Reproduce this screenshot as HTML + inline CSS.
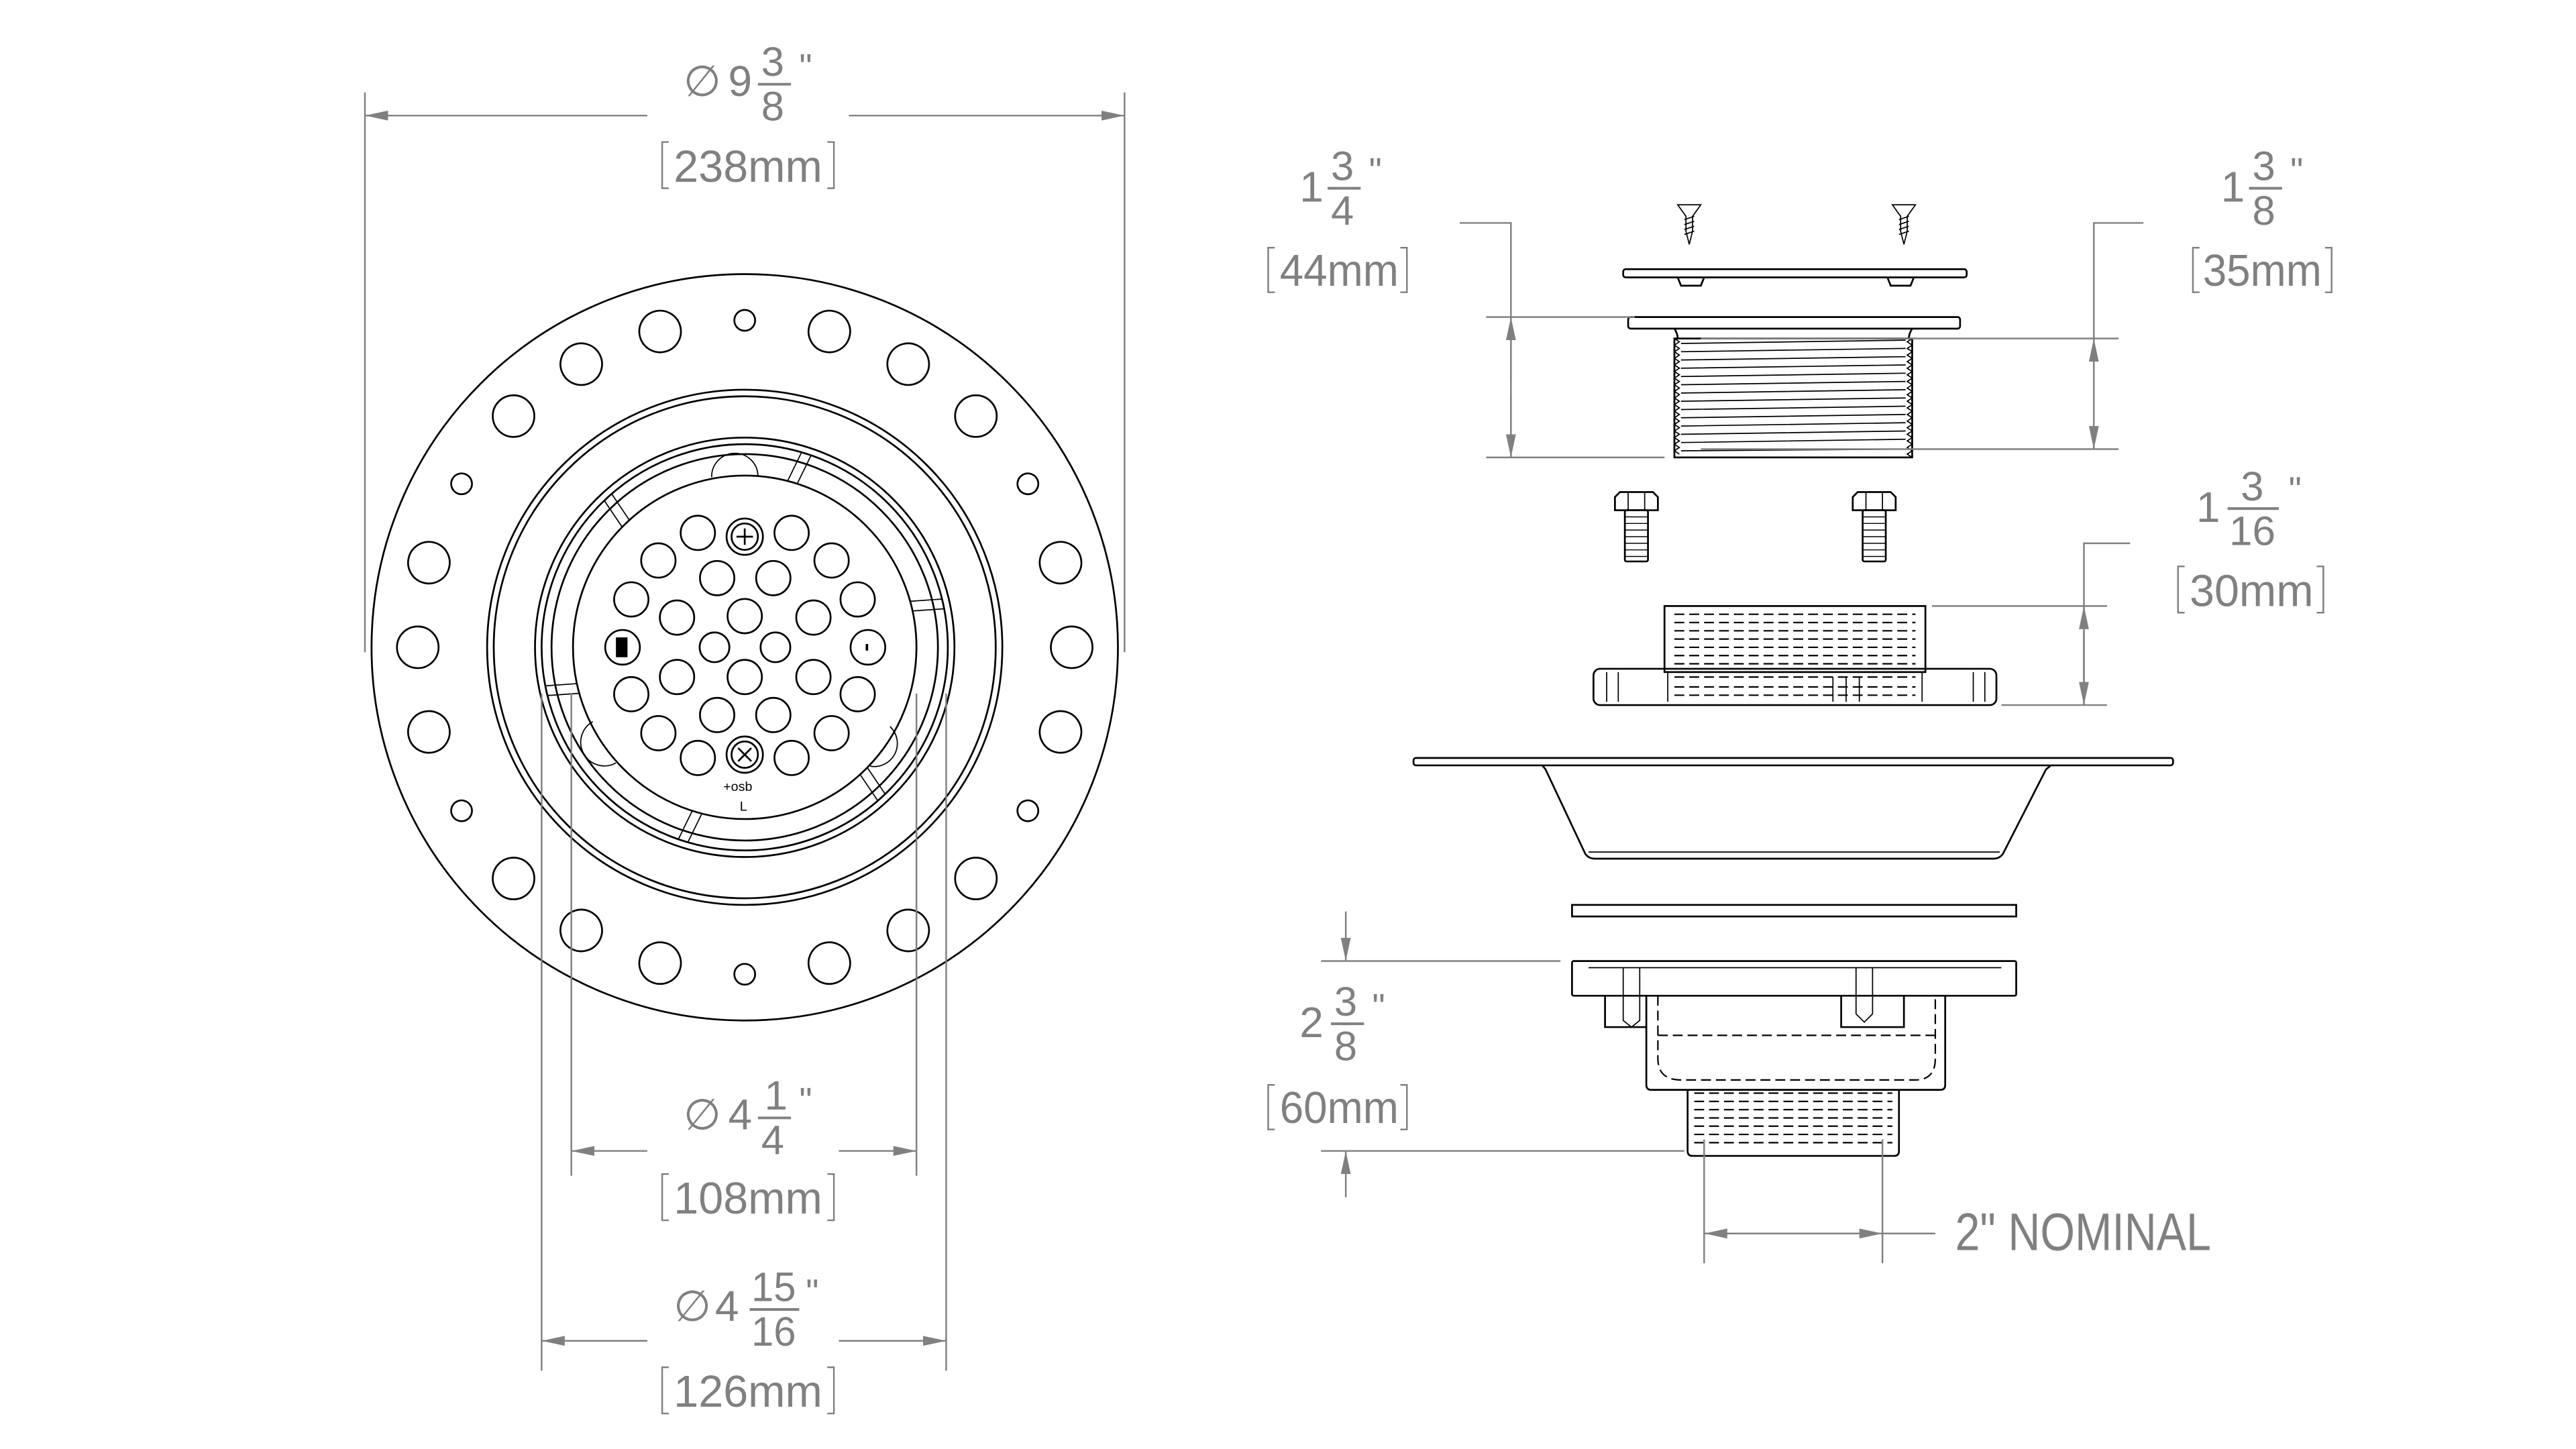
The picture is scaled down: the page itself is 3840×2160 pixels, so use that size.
<!DOCTYPE html>
<html><head><meta charset="utf-8"><style>
html,body{margin:0;padding:0;background:#fff;}
svg{display:block;}
.t{font-family:"Liberation Sans",sans-serif;fill:#808080;}
.d{stroke:#808080;stroke-width:1;fill:none;}
.k{stroke:#000;stroke-width:1.1;fill:none;}
.kt{stroke:#000;stroke-width:0.7;fill:none;}
.ds{stroke:#000;stroke-width:0.9;fill:none;stroke-dasharray:6 3;}
</style></head><body>
<svg width="3840" height="2160" viewBox="0 0 1560 877.5" xmlns="http://www.w3.org/2000/svg">
<defs>
<marker id="a" viewBox="0 0 14 6" refX="14" refY="3" markerWidth="14" markerHeight="6" markerUnits="userSpaceOnUse" orient="auto"><path d="M0,0 L14,3 L0,6 z" fill="#808080"/></marker>
</defs>
<rect width="1560" height="877.5" fill="#fff"/>

<g transform="translate(451,392)">
  <circle class="k" r="226" stroke-width="1.4"/>
  <circle class="k" r="156"/>
  <circle class="k" r="152"/>
  <circle class="k" r="127"/>
  <circle class="k" r="123"/>
  <circle class="k" r="117"/>
  <circle class="k" r="104"/>
  <g class="k">
    <circle cx="0" cy="-198" r="12.6" transform="rotate(15)"/>
    <circle cx="0" cy="-198" r="12.6" transform="rotate(30)"/>
    <circle cx="0" cy="-198" r="12.6" transform="rotate(45)"/>
    <circle cx="0" cy="-198" r="12.6" transform="rotate(75)"/>
    <circle cx="0" cy="-198" r="12.6" transform="rotate(90)"/>
    <circle cx="0" cy="-198" r="12.6" transform="rotate(105)"/>
    <circle cx="0" cy="-198" r="12.6" transform="rotate(135)"/>
    <circle cx="0" cy="-198" r="12.6" transform="rotate(150)"/>
    <circle cx="0" cy="-198" r="12.6" transform="rotate(165)"/>
    <circle cx="0" cy="-198" r="12.6" transform="rotate(195)"/>
    <circle cx="0" cy="-198" r="12.6" transform="rotate(210)"/>
    <circle cx="0" cy="-198" r="12.6" transform="rotate(225)"/>
    <circle cx="0" cy="-198" r="12.6" transform="rotate(255)"/>
    <circle cx="0" cy="-198" r="12.6" transform="rotate(270)"/>
    <circle cx="0" cy="-198" r="12.6" transform="rotate(285)"/>
    <circle cx="0" cy="-198" r="12.6" transform="rotate(315)"/>
    <circle cx="0" cy="-198" r="12.6" transform="rotate(330)"/>
    <circle cx="0" cy="-198" r="12.6" transform="rotate(345)"/>
    <circle cx="0" cy="-198" r="6.3"/>
    <circle cx="0" cy="-198" r="6.3" transform="rotate(60)"/>
    <circle cx="0" cy="-198" r="6.3" transform="rotate(120)"/>
    <circle cx="0" cy="-198" r="6.3" transform="rotate(180)"/>
    <circle cx="0" cy="-198" r="6.3" transform="rotate(240)"/>
    <circle cx="0" cy="-198" r="6.3" transform="rotate(300)"/>
  </g>
  <g class="kt">
    <path d="M-8,-123 L-10,-104" transform="rotate(20)"/><path d="M-2,-123 L-4,-104" transform="rotate(20)"/>
    <path d="M-8,-123 L-10,-104" transform="rotate(-40)"/><path d="M-2,-123 L-4,-104" transform="rotate(-40)"/>
    <path d="M-8,-123 L-10,-104" transform="rotate(80)"/><path d="M-2,-123 L-4,-104" transform="rotate(80)"/>
    <path d="M-8,-123 L-10,-104" transform="rotate(140)"/><path d="M-2,-123 L-4,-104" transform="rotate(140)"/>
    <path d="M-8,-123 L-10,-104" transform="rotate(200)"/><path d="M-2,-123 L-4,-104" transform="rotate(200)"/>
    <path d="M-8,-123 L-10,-104" transform="rotate(260)"/><path d="M-2,-123 L-4,-104" transform="rotate(260)"/>
    <path d="M-20,-103 A12,12 0 0 1 8,-104"/>
    <path d="M-92,45 A14,14 0 0 0 -78,70"/>
    <path d="M88,48 A14,14 0 0 1 76,72"/>
  </g>
  <g class="k">
    <circle cx="-28.4" cy="-69.3" r="10.4"/><circle cx="28.4" cy="-69.3" r="10.4"/>
    <circle cx="-52.3" cy="-52.6" r="10.4"/><circle cx="52.6" cy="-52.6" r="10.4"/>
    <circle cx="-16.7" cy="-41.9" r="10.4"/><circle cx="17.3" cy="-41.9" r="10.4"/>
    <circle cx="-68.7" cy="-29" r="10.4"/><circle cx="68.4" cy="-29" r="10.4"/>
    <circle cx="-41" cy="-18" r="10.4"/><circle cx="0" cy="-18.9" r="10.4"/><circle cx="41.6" cy="-18" r="10.4"/>
    <circle cx="-18.3" cy="0" r="9"/><circle cx="18.6" cy="0" r="9"/>
    <circle cx="-41" cy="18" r="10.4"/><circle cx="0" cy="18" r="10.4"/><circle cx="41.6" cy="18" r="10.4"/>
    <circle cx="-68.7" cy="28.4" r="10.4"/><circle cx="68.4" cy="28.4" r="10.4"/>
    <circle cx="-16.7" cy="41" r="10.4"/><circle cx="17.3" cy="41" r="10.4"/>
    <circle cx="-52.3" cy="52" r="10.4"/><circle cx="52.6" cy="52" r="10.4"/>
    <circle cx="-28.4" cy="67" r="10.4"/><circle cx="28.4" cy="67" r="10.4"/>
    <circle cx="-74" cy="0" r="10.5"/><circle cx="74.6" cy="0" r="10.5"/>
    <circle cx="0" cy="-67" r="11"/><circle cx="0" cy="-67" r="8"/>
    <circle cx="0" cy="65" r="11"/><circle cx="0" cy="65" r="8"/>
    <path d="M-5,-67 H5 M0,-72 V-62"/>
    <path d="M-4,61 L4,69 M4,61 L-4,69"/>
  </g>
  <rect x="-78" y="-6" width="7" height="12" fill="#000"/>
  <line x1="74" y1="-2" x2="74" y2="2" stroke="#000" stroke-width="1.5"/>
  <text x="-13" y="87" font-family="Liberation Sans,sans-serif" font-size="8" fill="#000">+osb</text>
  <text x="-3" y="99" font-family="Liberation Sans,sans-serif" font-size="8" fill="#000">L</text>
</g>

<g class="d">
  <line x1="221" y1="56" x2="221" y2="395"/>
  <line x1="681" y1="56" x2="681" y2="395"/>
  <line x1="392" y1="70" x2="221" y2="70" marker-end="url(#a)"/>
  <line x1="514" y1="70" x2="681" y2="70" marker-end="url(#a)"/>
  <line x1="346" y1="420" x2="346" y2="712"/>
  <line x1="555" y1="420" x2="555" y2="712"/>
  <line x1="392" y1="697" x2="346" y2="697" marker-end="url(#a)"/>
  <line x1="508" y1="697" x2="555" y2="697" marker-end="url(#a)"/>
  <line x1="328" y1="420" x2="328" y2="830"/>
  <line x1="573" y1="420" x2="573" y2="830"/>
  <line x1="392" y1="812" x2="328" y2="812" marker-end="url(#a)"/>
  <line x1="508" y1="812" x2="573" y2="812" marker-end="url(#a)"/>
  <path d="M405,86 H401 V114 H405 M501,86 H505 V114 H501"/>
  <path d="M405,711 H401 V739 H405 M501,711 H505 V739 H501"/>
  <path d="M405,828 H401 V856 H405 M501,828 H505 V856 H501"/>
</g>
<g class="t">
  <text x="414" y="58" font-size="26">∅</text>
  <text x="441" y="58" font-size="26">9</text>
  <text x="461" y="46" font-size="25">3</text>
  <line x1="459" y1="51" x2="479" y2="51" stroke="#808080" stroke-width="1.6"/>
  <text x="461" y="73" font-size="25">8</text>
  <text x="484" y="48" font-size="22">"</text>
  <text x="408" y="110" font-size="27" textLength="90" lengthAdjust="spacingAndGlyphs">238mm</text>

  <text x="414" y="684" font-size="26">∅</text>
  <text x="441" y="684" font-size="26">4</text>
  <text x="463" y="672" font-size="25">1</text>
  <line x1="459" y1="677" x2="479" y2="677" stroke="#808080" stroke-width="1.6"/>
  <text x="461" y="699" font-size="25">4</text>
  <text x="484" y="674" font-size="22">"</text>
  <text x="408" y="735" font-size="27" textLength="90" lengthAdjust="spacingAndGlyphs">108mm</text>

  <text x="408" y="800" font-size="26">∅</text>
  <text x="433" y="800" font-size="26">4</text>
  <text x="455" y="788" font-size="25" textLength="27" lengthAdjust="spacingAndGlyphs">15</text>
  <line x1="454" y1="793" x2="484" y2="793" stroke="#808080" stroke-width="1.6"/>
  <text x="455" y="815" font-size="25" textLength="27" lengthAdjust="spacingAndGlyphs">16</text>
  <text x="488" y="790" font-size="22">"</text>
  <text x="408" y="852" font-size="27" textLength="90" lengthAdjust="spacingAndGlyphs">126mm</text>
</g>

<g class="kt">
  <g transform="translate(1023,0)">
    <path d="M-7,124 H7 L2,131 V140 L0,148 L-2,140 V131 Z"/>
    <path d="M-3,133 L3,131 M-3,136 L3,134 M-3,139 L3,137 M-3,142 L3,140"/>
  </g>
  <g transform="translate(1153,0)">
    <path d="M-7,124 H7 L2,131 V140 L0,148 L-2,140 V131 Z"/>
    <path d="M-3,133 L3,131 M-3,136 L3,134 M-3,139 L3,137 M-3,142 L3,140"/>
  </g>
</g>
<g class="k">
  <rect x="983" y="163" width="208" height="5" rx="1.5"/>
  <path d="M1016,168 L1018,173 H1030 L1032,168 M1143,168 L1145,173 H1157 L1159,168"/>
  <rect x="986" y="192" width="201" height="7" rx="1.5"/>
  <path d="M1014,199 Q1016,202 1016,205 M1158,199 Q1156,202 1156,205"/>
  <rect x="1014" y="205" width="144" height="72"/>
</g>
<g class="kt">
  <path d="M1018,208 L1154,206 M1018,213 L1154,211 M1018,218 L1154,216 M1018,223 L1154,221 M1018,228 L1154,226 M1018,233 L1154,231 M1018,238 L1154,236 M1018,243 L1154,241 M1018,248 L1154,246 M1018,253 L1154,251 M1018,258 L1154,256 M1018,263 L1154,261 M1018,268 L1154,266 M1018,273 L1154,272"/>
  <path d="M1014,205 l3,2 l-3,2 l3,2 l-3,2 l3,2 l-3,2 l3,2 l-3,2 l3,2 l-3,2 l3,2 l-3,2 l3,2 l-3,2 l3,2 l-3,2 l3,2 l-3,2 l3,2 l-3,2 l3,2 l-3,2 l3,2 l-3,2 l3,2 l-3,2 l3,2 l-3,2 l3,2 l-3,2 l3,2 l-3,2 l3,2 l-3,2 l3,2"/>
  <path d="M1158,205 l-3,2 l3,2 l-3,2 l3,2 l-3,2 l3,2 l-3,2 l3,2 l-3,2 l3,2 l-3,2 l3,2 l-3,2 l3,2 l-3,2 l3,2 l-3,2 l3,2 l-3,2 l3,2 l-3,2 l3,2 l-3,2 l3,2 l-3,2 l3,2 l-3,2 l3,2 l-3,2 l3,2 l-3,2 l3,2 l-3,2 l3,2 l-3,2 l3,2"/>
</g>
<g class="k">
  <g transform="translate(991,0)">
    <path d="M-13,301 L-10,298 H10 L13,301 V309 H-13 Z"/>
    <path d="M-5,298 V309 M5,298 V309" stroke-width="0.7"/>
    <rect x="-7" y="309" width="14" height="31" rx="1"/>
    <path d="M-7,313 H7 M-7,317 H7 M-7,321 H7 M-7,325 H7 M-7,329 H7 M-7,333 H7 M-7,337 H7" stroke-width="0.6"/>
  </g>
  <g transform="translate(1135,0)">
    <path d="M-13,301 L-10,298 H10 L13,301 V309 H-13 Z"/>
    <path d="M-5,298 V309 M5,298 V309" stroke-width="0.7"/>
    <rect x="-7" y="309" width="14" height="31" rx="1"/>
    <path d="M-7,313 H7 M-7,317 H7 M-7,321 H7 M-7,325 H7 M-7,329 H7 M-7,333 H7 M-7,337 H7" stroke-width="0.6"/>
  </g>
</g>
<g class="k">
  <rect x="1008" y="367" width="158" height="40"/>
  <rect x="965" y="405" width="244" height="22" rx="4"/>
</g>
<g class="ds">
  <path d="M1014,372 H1160 M1014,377 H1160 M1014,382 H1160 M1014,387 H1160 M1014,392 H1160 M1014,397 H1160 M1014,402 H1160 M1014,410 H1160 M1014,416 H1160 M1014,421 H1160"/>
</g>
<g class="kt">
  <path d="M973,407 V425 M980,407 V425 M1195,407 V425 M1202,407 V425 M1010,407 V425 M1164,407 V425 M1110,410 V425 M1118,410 V425 M1126,410 V425"/>
</g>
<g class="k">
  <rect x="856" y="459" width="460" height="4.5" rx="1.5"/>
  <path d="M934,463.5 L936,466 L960,517 Q962,520 966,520 H1207 Q1211,520 1213,517 L1239,466 L1242,463.5"/>
  <path d="M962,516 H1211" stroke-width="0.7"/>
</g>
<rect class="k" x="952" y="548" width="269" height="7"/>
<g class="k">
  <rect x="952" y="582" width="269" height="21" rx="1"/>
  <path d="M962,586 H1212" stroke-width="0.7"/>
  <path d="M997,603 V657 Q997,660 1000,660 H1175 Q1178,660 1178,657 V603"/>
  <path d="M972,603 V622 H997"/>
  <path d="M1115,603 V622 H1153 V603"/>
  <path d="M1022,660 V697 Q1022,700 1025,700 H1147 Q1150,700 1150,697 V660"/>
</g>
<g class="kt">
  <path d="M983,586 V618 L988,622 L993,618 V586 M1124,586 V614 L1129,619 L1134,614 V586"/>
</g>
<g class="ds">
  <path d="M1004,603 V641 Q1004,654 1018,654 H1160 Q1172,654 1172,641 V603 M1004,627 H1172"/>
  <path d="M1026,662 H1146 M1026,667 H1146 M1026,672 H1146 M1026,677 H1146 M1026,682 H1146 M1026,687 H1146 M1026,692 H1146"/>
</g>

<g class="d">
  <path d="M884,135 H915 V277"/>
  <line x1="915" y1="230" x2="915" y2="192" marker-end="url(#a)"/>
  <line x1="915" y1="240" x2="915" y2="277" marker-end="url(#a)"/>
  <line x1="900" y1="192" x2="990" y2="192"/>
  <line x1="900" y1="277" x2="1008" y2="277"/>
  <path d="M772,150 H768 V177 H772 M848,150 H852 V177 H848"/>
  <path d="M1298,135 H1268 V272"/>
  <line x1="1268" y1="240" x2="1268" y2="205" marker-end="url(#a)"/>
  <line x1="1268" y1="240" x2="1268" y2="272" marker-end="url(#a)"/>
  <line x1="1030" y1="205" x2="1283" y2="205"/>
  <line x1="1030" y1="272" x2="1283" y2="272"/>
  <path d="M1332,150 H1328 V177 H1332 M1408,150 H1412 V177 H1408"/>
  <path d="M1290,329 H1262 V427"/>
  <line x1="1262" y1="397" x2="1262" y2="367" marker-end="url(#a)"/>
  <line x1="1262" y1="397" x2="1262" y2="427" marker-end="url(#a)"/>
  <line x1="1170" y1="367" x2="1276" y2="367"/>
  <line x1="1212" y1="427" x2="1276" y2="427"/>
  <path d="M1323,343 H1319 V371 H1323 M1403,343 H1407 V371 H1403"/>
  <line x1="815" y1="552" x2="815" y2="582" marker-end="url(#a)"/>
  <line x1="815" y1="725" x2="815" y2="697" marker-end="url(#a)"/>
  <line x1="800" y1="582" x2="945" y2="582"/>
  <line x1="800" y1="697" x2="1020" y2="697"/>
  <path d="M772,657 H768 V684 H772 M848,657 H852 V684 H848"/>
  <line x1="1032" y1="690" x2="1032" y2="765"/>
  <line x1="1140" y1="690" x2="1140" y2="765"/>
  <line x1="1086" y1="747" x2="1032" y2="747" marker-end="url(#a)"/>
  <line x1="1086" y1="747" x2="1140" y2="747" marker-end="url(#a)"/>
  <line x1="1140" y1="747" x2="1172" y2="747"/>
</g>
<g class="t">
  <text x="787" y="122" font-size="26">1</text>
  <text x="806" y="109" font-size="25">3</text>
  <line x1="804" y1="114" x2="824" y2="114" stroke="#808080" stroke-width="1.6"/>
  <text x="806" y="136" font-size="25">4</text>
  <text x="829" y="111" font-size="22">"</text>
  <text x="775" y="173" font-size="27" textLength="72" lengthAdjust="spacingAndGlyphs">44mm</text>

  <text x="1345" y="122" font-size="26">1</text>
  <text x="1364" y="109" font-size="25">3</text>
  <line x1="1362" y1="114" x2="1382" y2="114" stroke="#808080" stroke-width="1.6"/>
  <text x="1364" y="136" font-size="25">8</text>
  <text x="1387" y="111" font-size="22">"</text>
  <text x="1334" y="173" font-size="27" textLength="72" lengthAdjust="spacingAndGlyphs">35mm</text>

  <text x="1330" y="316" font-size="26">1</text>
  <text x="1357" y="303" font-size="25">3</text>
  <line x1="1349" y1="308" x2="1380" y2="308" stroke="#808080" stroke-width="1.6"/>
  <text x="1350" y="330" font-size="25" textLength="28" lengthAdjust="spacingAndGlyphs">16</text>
  <text x="1386" y="304" font-size="22">"</text>
  <text x="1326" y="367" font-size="27" textLength="75" lengthAdjust="spacingAndGlyphs">30mm</text>

  <text x="787" y="628" font-size="26">2</text>
  <text x="808" y="615" font-size="25">3</text>
  <line x1="806" y1="620" x2="826" y2="620" stroke="#808080" stroke-width="1.6"/>
  <text x="808" y="642" font-size="25">8</text>
  <text x="831" y="617" font-size="22">"</text>
  <text x="775" y="680" font-size="27" textLength="72" lengthAdjust="spacingAndGlyphs">60mm</text>

  <text x="1184" y="757" font-size="32" textLength="155" lengthAdjust="spacingAndGlyphs">2" NOMINAL</text>
</g>
</svg>
</body></html>
